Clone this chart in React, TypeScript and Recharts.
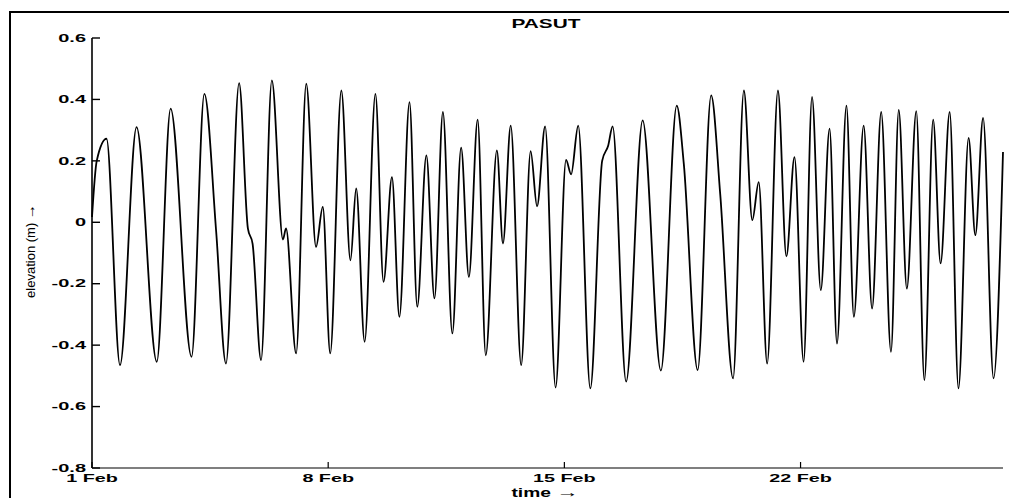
import { LineChart, Line, XAxis, YAxis } from "recharts";

const days = [
	0.0, 0.14, 0.43, 0.83, 1.32, 1.92, 2.33, 2.95, 3.33, 3.68, 3.97, 4.36, 4.62, 4.76,
	5.01, 5.33, 5.66, 5.75, 6.05, 6.35, 6.64, 6.84, 7.06, 7.39, 7.66, 7.83, 8.08, 8.4,
	8.64, 8.89, 9.11, 9.41, 9.64, 9.91, 10.15, 10.4, 10.68, 10.94, 11.17, 11.43, 11.67,
	12.0, 12.18, 12.41, 12.72, 13.0, 13.19, 13.43, 13.74, 14.05, 14.2, 14.41, 14.77,
	15.12, 15.3, 15.43, 15.83, 16.32, 16.86, 17.33, 17.54, 17.95, 18.35, 18.62, 19.0,
	19.32, 19.57, 19.76, 20.01, 20.33, 20.58, 20.82, 21.09, 21.34, 21.6, 21.86, 22.08,
	22.36, 22.58, 22.87, 23.12, 23.39, 23.68, 23.91, 24.15, 24.43, 24.67, 24.93, 25.15,
	25.42, 25.68, 25.98, 26.18, 26.41, 26.72, 27.0,
];

// elevation (m)
const elevation = [
	0.017, 0.2, 0.272, -0.465, 0.31, -0.454, 0.37, -0.438, 0.418, -0.03, -0.46, 0.453, -0.02, -0.07,
	-0.449, 0.462, -0.056, -0.02, -0.427, 0.451, -0.08, 0.05, -0.427, 0.429, -0.124, 0.11, -0.389, 0.418,
	-0.194, 0.147, -0.308, 0.391, -0.275, 0.218, -0.248, 0.359, -0.362, 0.243, -0.178, 0.334, -0.433,
	0.234, -0.069, 0.315, -0.465, 0.232, 0.052, 0.312, -0.538, 0.203, 0.156, 0.315, -0.541,
	0.2, 0.25, 0.312, -0.519, 0.332, -0.483, 0.38, 0.19, -0.481, 0.413, 0.09, -0.508,
	0.429, 0.007, 0.131, -0.46, 0.429, -0.111, 0.212, -0.454, 0.408, -0.221, 0.305, -0.395,
	0.38, -0.308, 0.315, -0.281, 0.359, -0.422, 0.366, -0.216, 0.362, -0.514, 0.334, -0.134,
	0.359, -0.541, 0.275, -0.042, 0.34, -0.508, 0.229,
];

const xTicks = [0, 7, 14, 21];
const xTickLabels = ["1 Feb", "8 Feb", "15 Feb", "22 Feb"];
const yTicks = [-0.8, -0.6, -0.4, -0.2, 0, 0.2, 0.4, 0.6];
const yTickLabels = ["-0.8", "-0.6", "-0.4", "-0.2", "0", "0.2", "0.4", "0.6"];

const data = days.map((d, i) => ({ day: d, elev: elevation[i] }));

const FONT = '"Liberation Sans", Arial, Helvetica, sans-serif';

const XTick = ({ x, y, payload }: any) => {
	const label = xTickLabels[xTicks.indexOf(payload.value)];
	return (
		<text
			transform={`translate(${x},${y + 10}) scale(1.72,1)`}
			textAnchor='middle'
			fontFamily={FONT}
			fontWeight='bold'
			fontSize={11.5}
			fill='#000'>
			{label}
		</text>
	);
};

const YTick = ({ x, y, payload }: any) => {
	const idx = yTicks.findIndex((t) => Math.abs(t - payload.value) < 1e-6);
	return (
		<text
			transform={`translate(${x},${y + 3.7}) scale(1.9,1)`}
			textAnchor='end'
			fontFamily={FONT}
			fontWeight='bold'
			fontSize={10.5}
			fill='#000'>
			{yTickLabels[idx]}
		</text>
	);
};

const App = () => {
	return (
		<div
			style={{
				position: "absolute",
				left: 0,
				top: 0,
				width: 1009,
				height: 498,
				overflow: "hidden",
				background: "#fff",
			}}>
			<div
				style={{
					position: "absolute",
					left: 9,
					top: 11,
					width: 1000,
					height: 487,
					borderLeft: "2px solid #000",
					borderTop: "2px solid #000",
					boxSizing: "border-box",
				}}
			/>
			<div
				style={{
					position: "absolute",
					left: 546,
					top: 17,
					lineHeight: "13px",
					fontFamily: FONT,
					fontWeight: "bold",
					fontSize: 13,
					whiteSpace: "nowrap",
					transform: "translateX(-50%) scaleX(1.6)",
				}}>
				PASUT
			</div>
			<div style={{ position: "absolute", left: 0, top: 0 }}>
				<LineChart
					width={1009}
					height={498}
					data={data}
					margin={{ top: 38, right: 6, bottom: 0, left: 0 }}>
					<XAxis
						dataKey='day'
						type='number'
						domain={[0, 27]}
						ticks={xTicks}
						interval={0}
						height={30}
						tickSize={-6}
						tickMargin={10}
						tick={<XTick />}
						axisLine={{ stroke: "#000", strokeWidth: 1.2 }}
						tickLine={{ stroke: "#000", strokeWidth: 1.2 }}
						label={{
							value: "time →",
							content: () => (
								<text
									transform='translate(545,497) scale(1.6,1)'
									textAnchor='middle'
									fontFamily={FONT}
									fontWeight='bold'
									fontSize={12}
									fill='#000'>
									time <tspan fontSize={14}>→</tspan>
								</text>
							),
						}}
					/>
					<YAxis
						type='number'
						domain={[-0.8, 0.6]}
						ticks={yTicks}
						interval={0}
						width={92}
						tickSize={-8}
						tickMargin={14}
						tick={<YTick />}
						axisLine={{ stroke: "#000", strokeWidth: 1.6 }}
						tickLine={{ stroke: "#000", strokeWidth: 1.4 }}
						label={{
							value: "elevation (m) →",
							content: () => (
								<text
									transform='translate(35,251) rotate(-90)'
									textAnchor='middle'
									fontFamily={FONT}
									fontSize={13}
									fill='#000'>
									elevation (m) <tspan fontSize={15}>→</tspan>
								</text>
							),
						}}
					/>
					<Line
						dataKey='elev'
						type='monotone'
						stroke='#000'
						strokeWidth={1.8}
						dot={false}
						isAnimationActive={false}
					/>
				</LineChart>
			</div>
		</div>
	);
};

export default App;
